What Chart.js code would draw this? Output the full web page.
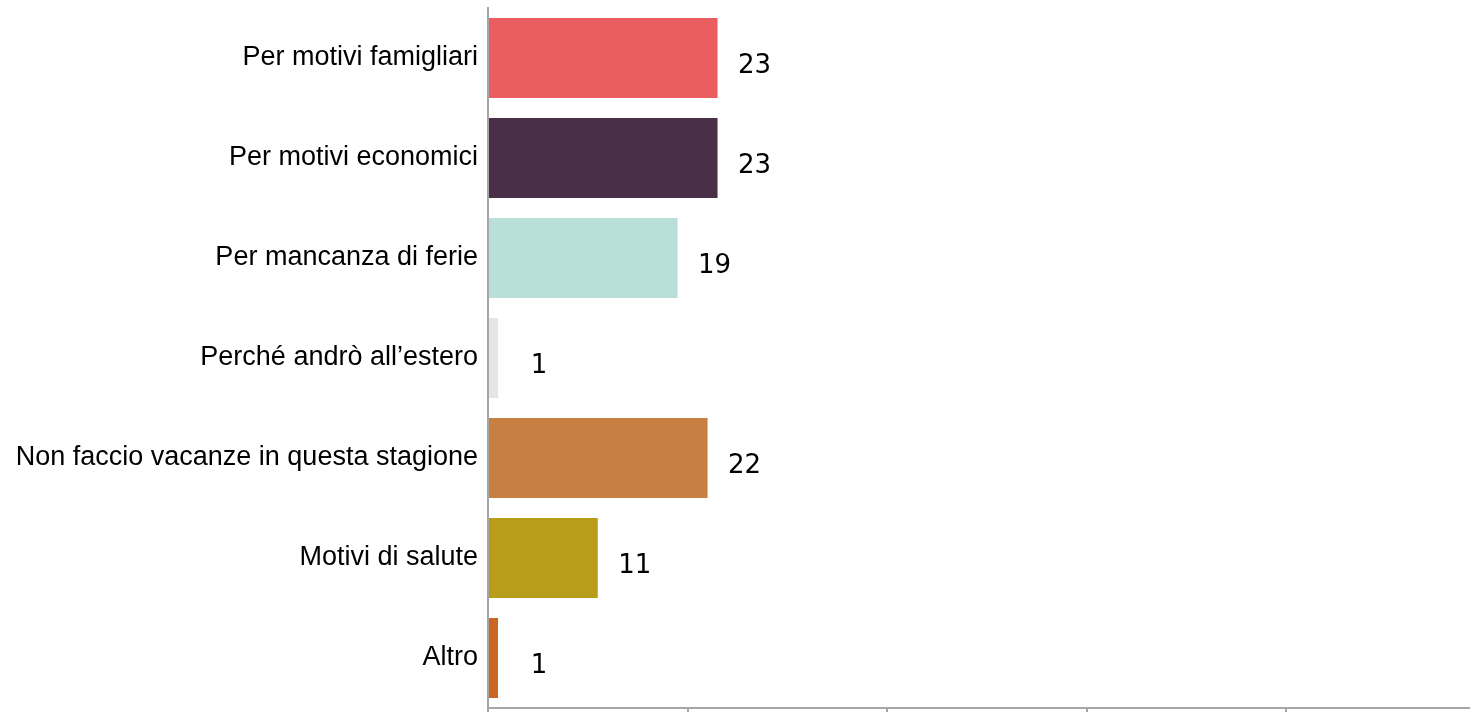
<!DOCTYPE html>
<html lang="it">
<head>
<meta charset="utf-8">
<title>Motivi per non andare in vacanza</title>
<script src="https://cdn.jsdelivr.net/npm/chart.js@4/dist/chart.umd.min.js"></script>
<style>
  html, body { margin: 0; padding: 0; background: #ffffff; overflow: hidden; }
  #wrap { position: relative; width: 1490px; height: 730px; }
</style>
</head>
<body>
<div id="wrap"><canvas id="chart"></canvas></div>
<script>
// Risposte: motivi per cui non si va in vacanza
const categories = [
  'Per motivi famigliari',
  'Per motivi economici',
  'Per mancanza di ferie',
  'Perché andrò all\u2019estero',
  'Non faccio vacanze in questa stagione',
  'Motivi di salute',
  'Altro'
];
const values = [23, 23, 19, 1, 22, 11, 1];
const barColors = ['#ea5d61', '#4a2f49', '#b9dfd9', '#e8e4e1', '#c78042', '#b89d1a', '#c96623'];
const xTicks = [0, 20, 40, 60, 80, 100];

// Etichette numeriche a destra di ogni barra
const valueLabels = {
  id: 'valueLabels',
  afterDatasetsDraw(chart) {
    const { ctx } = chart;
    const xs = chart.scales.x;
    const meta = chart.getDatasetMeta(0);
    ctx.save();
    ctx.font = '26px "DejaVu Sans"';
    ctx.fillStyle = '#000000';
    ctx.textAlign = 'center';
    ctx.textBaseline = 'middle';
    meta.data.forEach((bar, i) => {
      const v = values[i];
      const gap = v < 5 ? 41 : 37;
      ctx.fillText(String(v), xs.getPixelForValue(v) + gap, bar.y + 8);
    });
    ctx.restore();
  }
};

new Chart(document.getElementById('chart'), {
  type: 'bar',
  data: {
    labels: categories,
    datasets: [{
      data: values,
      backgroundColor: barColors,
      borderWidth: 0,
      barPercentage: 0.8,
      categoryPercentage: 1.0
    }]
  },
  options: {
    indexAxis: 'y',
    responsive: true,
    maintainAspectRatio: false,
    animation: false,
    layout: { padding: { top: 8, right: 4, left: 0, bottom: 0 } },
    plugins: { legend: { display: false }, tooltip: { enabled: false } },
    scales: {
      x: {
        min: 0,
        max: 100,
        afterBuildTicks(scale) { scale.ticks = xTicks.map(v => ({ value: v })); },
        afterFit(scale) { scale.height = 22; scale.paddingLeft = 0; scale.paddingRight = 0; },
        ticks: { display: false },
        grid: { drawOnChartArea: false, drawTicks: true, tickLength: 8, color: '#a6a6a6', lineWidth: 2 },
        border: { display: true, color: '#a6a6a6', width: 2 }
      },
      y: {
        afterFit(scale) { scale.width = 488; scale.paddingTop = 0; scale.paddingBottom = 0; },
        ticks: {
          color: '#000000',
          padding: 10,
          font: { family: '"Liberation Sans", Arial, sans-serif', size: 27 }
        },
        grid: { display: false, drawTicks: false },
        border: { display: true, color: '#a6a6a6', width: 2 }
      }
    }
  },
  plugins: [valueLabels]
});
</script>
</body>
</html>
